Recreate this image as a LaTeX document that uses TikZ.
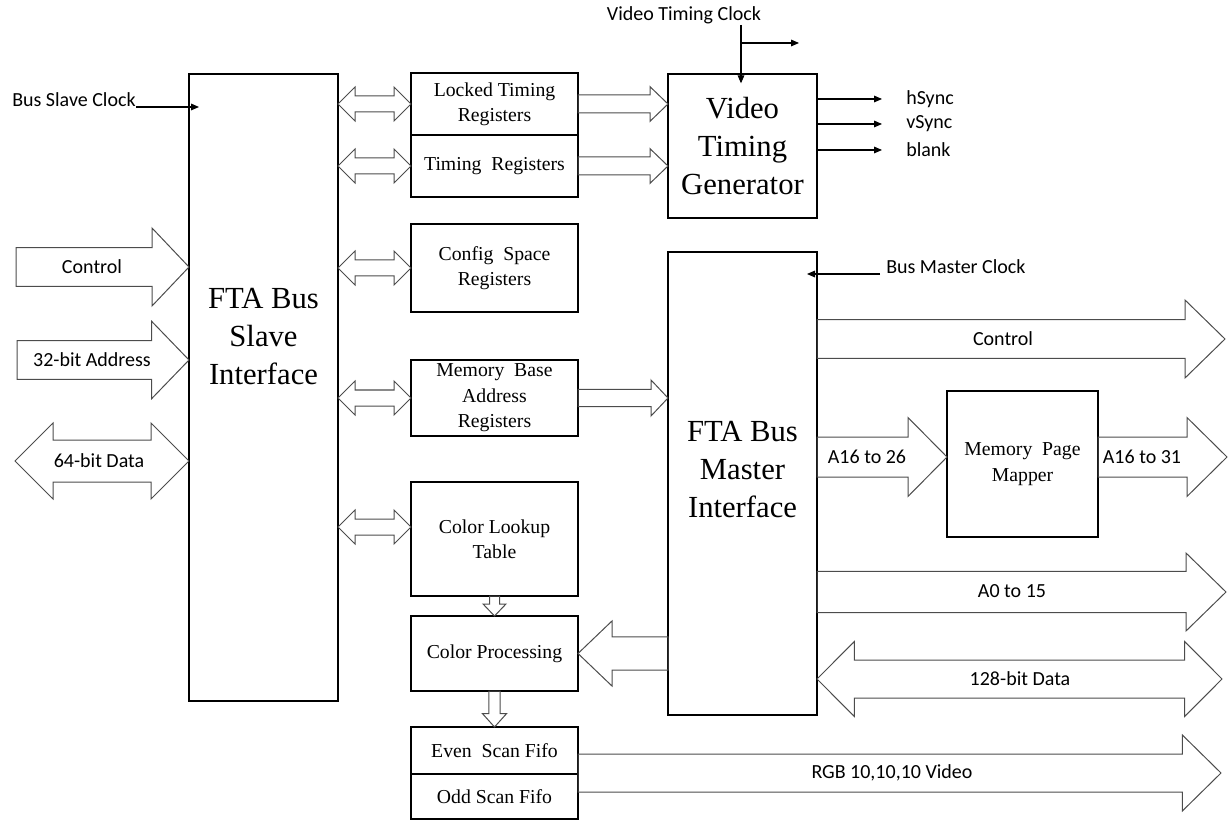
\documentclass[tikz,border=0pt]{standalone}
\usepackage{fontspec}
\setmainfont{Liberation Serif}
\newfontfamily\lblfont{Carlito}
\usetikzlibrary{calc,positioning,arrows.meta}

\newcommand{\bigarr}[5]{%
\coordinate (ba-h) at ($(#2)!#5!(#1)$);
\draw [hollow] ($(#1)!#3!90:(#2)$) -- ($(ba-h)!#3!90:(#2)$) -- ($(ba-h)!#4!90:(#2)$) -- (#2) -- ($(ba-h)!#4!-90:(#2)$) -- ($(ba-h)!#3!-90:(#2)$) -- ($(#1)!#3!-90:(#2)$) -- cycle;}
\newcommand{\dblarr}[5]{%
\coordinate (da-a) at ($(#1)!#5!(#2)$);
\coordinate (da-b) at ($(#2)!#5!(#1)$);
\draw [hollow] (#1) -- ($(da-a)!#4!90:(#2)$) -- ($(da-a)!#3!90:(#2)$) -- ($(da-b)!#3!-90:(#1)$) -- ($(da-b)!#4!-90:(#1)$) -- (#2) -- ($(da-b)!#4!90:(#1)$) -- ($(da-b)!#3!90:(#1)$) -- ($(da-a)!#3!-90:(#2)$) -- ($(da-a)!#4!-90:(#2)$) -- cycle;}

\begin{document}
\begin{tikzpicture}[x=0.75pt,y=-0.75pt]
\tikzstyle{every node}+=[inner sep=0pt]
\tikzstyle{block}=[draw, line width=0.9pt, outer sep=0pt, align=center, font=\fontsize{14.8}{19}\selectfont]
\tikzstyle{bigtext}=[align=center, font=\fontsize{23}{28.5}\selectfont]
\tikzstyle{lbl}=[font=\lblfont\fontsize{15}{17}\selectfont]
\tikzstyle{hollow}=[draw=black!70, line width=0.75pt]
\tikzstyle{clk}=[line width=0.8pt, -{Triangle[length=6pt,width=5pt]}]
\useasboundingbox (0,0) rectangle (1231,823);
\node [block, minimum width=111.75pt, minimum height=470.25pt] (slave) at (263.5,387.5) {};
\node [bigtext] (slavetxt) at (263.5,337) {FTA Bus\\Slave\\Interface};
\node [block, minimum width=125.25pt, minimum height=46.5pt] (lock) at (494.5,104) {Locked Timing\\Registers};
\node [block, minimum width=125.25pt, minimum height=46.5pt, below=0pt of lock] (timreg) {Timing\ \ Registers};
\node [block, minimum width=125.25pt, minimum height=66pt] (config) at (494.5,268) {Config\ \ Space\\Registers};
\node [block, minimum width=125.25pt, minimum height=57pt] (membase) at (494.5,398) {Memory\ \ Base\\Address\\Registers};
\node [block, minimum width=125.25pt, minimum height=85.5pt] (clut) at (494.5,539) {Color Lookup\\Table};
\node [block, minimum width=125.25pt, minimum height=56.25pt] (colproc) at (494.5,653.5) {Color Processing};
\node [block, minimum width=125.25pt, minimum height=35.25pt] (even) at (494.5,750.5) {Even\ \ Scan Fifo};
\node [block, minimum width=125.25pt, minimum height=33.75pt, below=0pt of even] (odd) {Odd Scan Fifo};
\node [block, minimum width=111.75pt, minimum height=108pt, font=\fontsize{23}{28.5}\selectfont] (vtg) at (742.5,146) {Video\\Timing\\Generator};
\node [block, minimum width=111.75pt, minimum height=347.25pt] (master) at (742.5,483.5) {};
\node [bigtext] (mastertxt) at (742.5,470) {FTA Bus\\Master\\Interface};
\node [block, minimum width=113.25pt, minimum height=109.5pt] (mapper) at (1022.5,464) {Memory\ \ Page\\Mapper};
\node [lbl, anchor=base west] (bsclk) at (12,107) {Bus Slave Clock};
\draw [clk] (bsclk.base east) -- ([xshift=7.5pt]bsclk.base east -| slave.west);
\node [lbl] (vtclk) at (684,15) {Video Timing Clock};
\coordinate (vtc) at (741,25);
\coordinate (vtbr) at (741,43);
\coordinate (vtout) at (799,43);
\draw [clk] (vtc) -- ([yshift=-7pt]vtc |- vtg.north);
\draw [clk] (vtbr) -- (vtout);
\foreach \y/\t/\n in {99/hSync/hs, 124/vSync/vs, 150/blank/bl}{
\node [lbl, anchor=west] (\n) at (906,\y) {\t};
\draw [clk] (vtg.east |- \n.west) -- ([xshift=-18pt]\n.west);
}
\node [lbl, anchor=base west] (bmclk) at (886,274) {Bus Master Clock};
\draw [clk] ([xshift=-4.5pt]bmclk.base west) -- ([xshift=-7.5pt]bmclk.base west -| master.east);
\coordinate (ctlin) at (16,267);
\coordinate (adrin) at (17,360);
\coordinate (datin) at (15,461);
\bigarr{ctlin}{ctlin -| slave.west}{14.6pt}{29.25pt}{27.75pt}
\bigarr{adrin}{adrin -| slave.west}{14.6pt}{29pt}{28pt}
\dblarr{datin}{datin -| slave.west}{15.75pt}{28.5pt}{28.5pt}
\node [lbl] (ctltxt) at (92,267) {Control};
\node [lbl] (adrtxt) at (92,360) {32-bit Address};
\node [lbl] (dattxt) at (99,461) {64-bit Data};
\foreach \b in {lock,timreg,config,membase}{
\dblarr{slave.east |- \b.west}{\b.west}{6pt}{12.75pt}{12.75pt}
}
\coordinate (clutin) at ([yshift=9pt]clut.west);
\dblarr{slave.east |- clutin}{clutin}{6pt}{12.75pt}{12.75pt}
\bigarr{lock.east}{lock.east -| vtg.west}{6.75pt}{13pt}{13.5pt}
\bigarr{timreg.east}{timreg.east -| vtg.west}{6.75pt}{13pt}{13.5pt}
\bigarr{membase.east}{membase.east -| master.west}{6.4pt}{13.5pt}{12.75pt}
\bigarr{clut.south}{colproc.north}{3.75pt}{8.6pt}{9pt}
\bigarr{colproc.south}{even.north}{4.2pt}{9pt}{10pt}
\bigarr{master.west |- colproc.east}{colproc.east}{12.4pt}{24.4pt}{25.5pt}
\coordinate (ctlout) at (1225,339);
\coordinate (mapin) at ([yshift=5.25pt]mapper.west);
\coordinate (a31) at (1227,457);
\coordinate (a0) at (1226,592);
\coordinate (d128) at (1222,679);
\coordinate (rgb) at (1221,773);
\bigarr{master.east |- ctlout}{ctlout}{14.6pt}{29.25pt}{30pt}
\bigarr{master.east |- mapin}{mapin}{15pt}{29.6pt}{29.25pt}
\bigarr{mapper.east |- a31}{a31}{15pt}{29.6pt}{30pt}
\bigarr{master.east |- a0}{a0}{15.4pt}{29.25pt}{30pt}
\dblarr{master.east |- d128}{d128}{14.25pt}{28.1pt}{28pt}
\bigarr{even.east |- rgb}{rgb}{14.25pt}{28.5pt}{29pt}
\node [lbl] (ctlotxt) at (1003,339) {Control};
\node [lbl] (a26txt) at (867,457) {A16 to 26};
\node [lbl] (a31txt) at (1142,457) {A16 to 31};
\node [lbl] (a0txt) at (1012,591) {A0 to 15};
\node [lbl] (d128txt) at (1020,679) {128-bit Data};
\node [lbl] (rgbtxt) at (892,773) {RGB 10,10,10 Video};
\end{tikzpicture}
\end{document}
